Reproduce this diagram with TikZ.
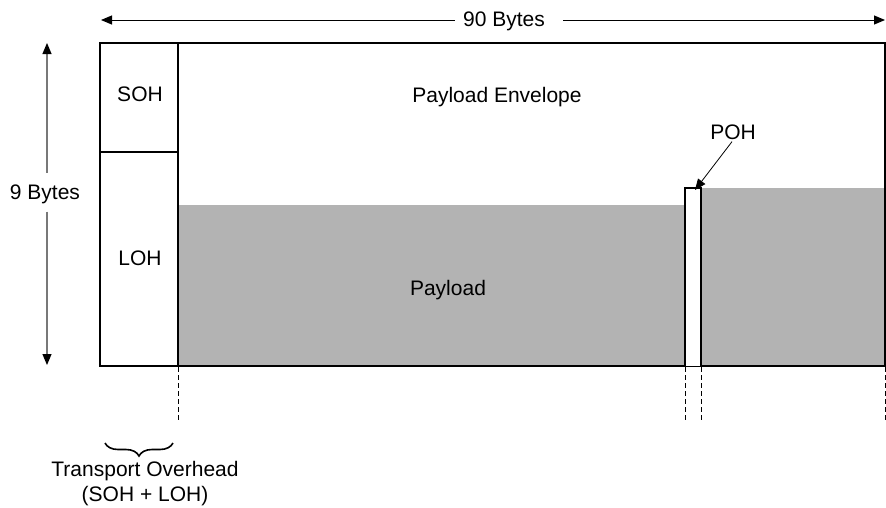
\documentclass[tikz,border=0pt]{standalone}
\usepackage{fontspec}
\setmainfont{Liberation Sans}
\usetikzlibrary{arrows.meta,decorations.pathreplacing}
\definecolor{payloadgray}{RGB}{179,179,179}
\definecolor{arrowgray}{RGB}{120,120,120}
\tikzset{
  frame/.style={line width=2.4pt},
  guide/.style={line width=1pt, dash pattern=on 5pt off 3pt},
  label/.style={font=\fontsize{21}{25}\selectfont, inner sep=0pt}
}
\begin{document}
\begin{tikzpicture}[x=1pt,y=-1pt]
\useasboundingbox (0,0) rectangle (886,507);
\fill[payloadgray] (178,205) rectangle (685,366);
\fill[payloadgray] (701,188) rectangle (885,366);
\draw[frame] (100,43) rectangle (885,366);
\draw[frame] (178,43) -- (178,366);
\draw[frame] (100,152) -- (178,152);
\draw[frame, fill=white] (685,366) -- (685,188) -- (701,188) -- (701,366);
\foreach \x in {178,685,701,885}
  \draw[guide] (\x,367) -- (\x,421);

\node[label] (soh) at (140,94) {SOH};
\node[label] (loh) at (140,258) {LOH};
\node[label] (envelope) at (497,97) {Payload Envelope};
\node[label] (payload) at (448,290) {Payload};
\node[label] (poh) at (733,132) {POH};
\coordinate (pohtop) at (695,190);
\draw[line width=0.8pt, -{Triangle[length=11pt,width=9pt]}] (poh.south) ++(-1,2) -- (pohtop);

\node[label] (cols) at (504,21) {90 Bytes};
\coordinate (colsl) at (101,20);
\coordinate (colsr) at (885,20);
\draw[line width=1pt, {Triangle[length=11pt,width=9pt]}-] (colsl) -- ([xshift=-8pt]cols.west |- colsl);
\draw[line width=1pt, -{Triangle[length=11pt,width=9pt]}] ([xshift=18pt]cols.east |- colsr) -- (colsr);

\node[label] (rows) at (45,194) {9 Bytes};
\coordinate (rowst) at (47,43);
\coordinate (rowsb) at (47,365);
\draw[arrowgray, line width=1.2pt, {Triangle[length=11pt,width=9pt,black]}-] (rowst) -- ([yshift=11pt]rows.north -| rowst);
\draw[arrowgray, line width=1.2pt, -{Triangle[length=11pt,width=9pt,black]}] ([yshift=-8pt]rows.south -| rowsb) -- (rowsb);

\draw[line width=1.6pt, decorate, decoration={brace, mirror, amplitude=13pt}] (105,443) -- (173,443);
\node[label, align=center] (transport) at (145,484) {Transport Overhead\\(SOH + LOH)};
\end{tikzpicture}
\end{document}
